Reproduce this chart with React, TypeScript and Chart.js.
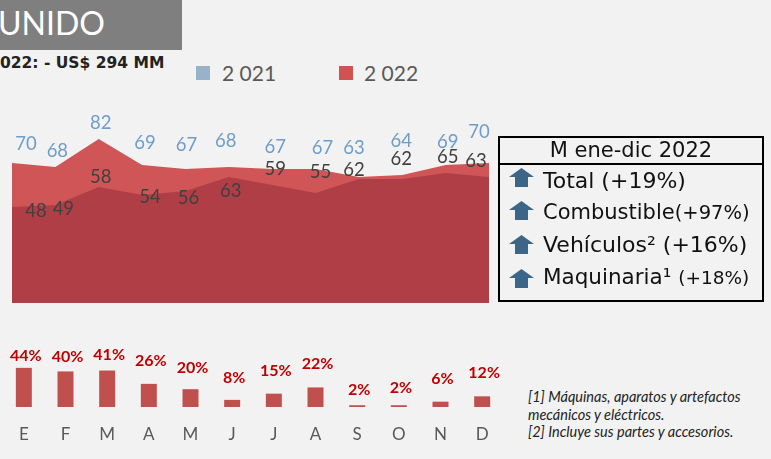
import React, { useEffect, useRef } from "react";
import { Chart, registerables } from "chart.js";

Chart.register(...registerables);

// ---- data ----
const months = ["E", "F", "M", "A", "M", "J", "J", "A", "S", "O", "N", "D"];
const values2021 = [70, 68, 82, 69, 67, 68, 67, 67, 63, 64, 69, 70];
const values2022 = [48, 49, 58, 54, 56, 63, 59, 55, 62, 62, 65, 63];
const variation = [44, 40, 41, 26, 20, 8, 15, 22, 2, 2, 6, 12];
const legendLabels = ["2 021", "2 022"];
const boxTitle = "M ene-dic 2022";

// ---- label nudges (style, pixels) ----
const topDx = [14, 2, 2, 3, 1, -3, 3, 7, -5, -1, 2, -10];
const topDy = [-19, -16, -16, -22, -24, -26, -22, -21, -29, -34, -23, -31];
const lowDx = [24, 8, 2, 8, 3, 2, 3, 5, -5, -1, 2, -13];
const lowDy = [4, 4, -10, 2, 7, 14, -16, -21, -9, -20, -16, -16];
const barDy = [-12, -15, -16, -23, -21, -22, -23, -24, -15, -17, -23, -23];

const LIGHT_RED = "#D05556";
const DARK_RED = "#B03E46";
const BAR_RED = "#C0504D";
const BLUE_LABEL = "#6E9DC9";
const CAL = "Lato, 'Open Sans', sans-serif";
const VER = "'DejaVu Sans', Verdana, sans-serif";

function AreaChart() {
  const ref = useRef<HTMLCanvasElement>(null);
  useEffect(() => {
    const labelPlugin = {
      id: "areaLabels",
      afterDatasetsDraw(chart: any) {
        const ctx = chart.ctx;
        ctx.save();
        ctx.font = `18.5px ${CAL}`;
        ctx.textAlign = "center";
        ctx.textBaseline = "middle";
        const metaLow = chart.getDatasetMeta(0);
        const metaTop = chart.getDatasetMeta(1);
        metaTop.data.forEach((pt: any, i: number) => {
          ctx.fillStyle = BLUE_LABEL;
          ctx.fillText(String(values2021[i]), pt.x + topDx[i], pt.y + topDy[i]);
        });
        metaLow.data.forEach((pt: any, i: number) => {
          ctx.fillStyle = "#404040";
          ctx.fillText(String(values2022[i]), pt.x + lowDx[i], pt.y + lowDy[i]);
        });
        ctx.restore();
      },
    };
    const chart = new Chart(ref.current!, {
      type: "line",
      data: {
        labels: months,
        datasets: [
          {
            label: legendLabels[1],
            data: values2022,
            fill: "origin",
            backgroundColor: DARK_RED,
            borderColor: DARK_RED,
            borderWidth: 0,
            pointRadius: 0,
            tension: 0,
          },
          {
            label: legendLabels[0],
            data: values2021,
            fill: "origin",
            backgroundColor: LIGHT_RED,
            borderColor: LIGHT_RED,
            borderWidth: 0,
            pointRadius: 0,
            tension: 0,
          },
        ],
      },
      options: {
        responsive: false,
        animation: false,
        layout: { padding: { left: 12, right: 11, top: 3, bottom: 0 } },
        plugins: { legend: { display: false }, tooltip: { enabled: false } },
        scales: {
          x: { display: false, offset: false },
          y: { display: false, min: 0, max: 100 },
        },
      },
      plugins: [labelPlugin],
    });
    return () => chart.destroy();
  }, []);
  return (
    <canvas
      ref={ref}
      width={500}
      height={203}
      style={{ position: "absolute", left: 0, top: 100, width: 500, height: 203 }}
    />
  );
}

function BarChart() {
  const ref = useRef<HTMLCanvasElement>(null);
  useEffect(() => {
    const labelPlugin = {
      id: "barLabels",
      afterDatasetsDraw(chart: any) {
        const ctx = chart.ctx;
        ctx.save();
        ctx.textAlign = "center";
        ctx.textBaseline = "middle";
        const meta = chart.getDatasetMeta(0);
        meta.data.forEach((bar: any, i: number) => {
          ctx.font = `bold 16px ${CAL}`;
          ctx.fillStyle = "#C00000";
          ctx.fillText(variation[i] + "%", bar.x + 2, bar.y + barDy[i]);
          ctx.font = `17px ${CAL}`;
          ctx.fillStyle = "#595959";
          ctx.fillText(months[i], bar.x, chart.chartArea.bottom + 28);
        });
        ctx.restore();
      },
    };
    const chart = new Chart(ref.current!, {
      type: "bar",
      data: {
        labels: months,
        datasets: [
          {
            label: "Var %",
            data: variation,
            backgroundColor: BAR_RED,
            borderWidth: 0,
            categoryPercentage: 1,
            barPercentage: 0.384,
          },
        ],
      },
      options: {
        responsive: false,
        animation: false,
        layout: { padding: { left: 0, right: 0, top: 0, bottom: 43 } },
        plugins: { legend: { display: false }, tooltip: { enabled: false } },
        scales: {
          x: { display: false },
          y: { display: false, min: 0, max: 75.3 },
        },
      },
      plugins: [labelPlugin],
    });
    return () => chart.destroy();
  }, []);
  return (
    <canvas
      ref={ref}
      width={500}
      height={110}
      style={{ position: "absolute", left: 3, top: 340, width: 500, height: 110 }}
    />
  );
}

function Arrow({ top }: { top: number }) {
  return (
    <svg
      width={25}
      height={19}
      viewBox="0 0 25 19"
      style={{ position: "absolute", left: 509, top }}
    >
      <polygon points="12.5,0 25,9 19,9 19,19 6,19 6,9 0,9" fill="#3C6687" />
    </svg>
  );
}

export default function App() {
  const rowText: React.CSSProperties = {
    position: "absolute",
    left: 543,
    fontFamily: VER,
    fontSize: 22,
    color: "#111",
    whiteSpace: "nowrap",
    lineHeight: "26px",
  };
  return (
    <div
      style={{
        position: "fixed",
        left: 0,
        top: 0,
        width: 771,
        height: 459,
        background: "#F2F2F2",
        overflow: "hidden",
      }}
    >
      {/* title box */}
      <div
        style={{
          position: "absolute",
          left: 0,
          top: 0,
          width: 182,
          height: 50,
          background: "#7F7F7F",
        }}
      />
      <div
        style={{
          position: "absolute",
          left: -2,
          top: 3,
          fontFamily: CAL,
          fontSize: 32,
          color: "#fff",
          lineHeight: "40px",
          whiteSpace: "nowrap",
        }}
      >
        UNIDO
      </div>
      <div
        style={{
          position: "absolute",
          left: 0,
          top: 54,
          fontFamily: VER,
          fontWeight: "bold",
          fontSize: 15.5,
          color: "#222",
          lineHeight: "18px",
          whiteSpace: "nowrap",
        }}
      >
        022: - US$ 294 MM
      </div>

      {/* legend */}
      <div style={{ position: "absolute", left: 196, top: 66, width: 14, height: 14, background: "#98B3C8" }} />
      <div
        style={{
          position: "absolute",
          left: 222,
          top: 59,
          fontFamily: CAL,
          fontSize: 21,
          color: "#595959",
          lineHeight: "28px",
          whiteSpace: "nowrap",
        }}
      >
        {legendLabels[0]}
      </div>
      <div style={{ position: "absolute", left: 339, top: 66, width: 14, height: 14, background: "#D05353" }} />
      <div
        style={{
          position: "absolute",
          left: 364,
          top: 59,
          fontFamily: CAL,
          fontSize: 21,
          color: "#595959",
          lineHeight: "28px",
          whiteSpace: "nowrap",
        }}
      >
        {legendLabels[1]}
      </div>

      <AreaChart />
      <BarChart />

      {/* summary box */}
      <div
        style={{
          position: "absolute",
          left: 498,
          top: 136,
          width: 266,
          height: 166,
          border: "2px solid #000",
          boxSizing: "border-box",
        }}
      >
        <div
          style={{
            height: 25,
            borderBottom: "2px solid #000",
            textAlign: "center",
            fontFamily: VER,
            fontSize: 21,
            lineHeight: "25px",
            color: "#111",
          }}
        >
          {boxTitle}
        </div>
      </div>
      <Arrow top={168} />
      <Arrow top={201} />
      <Arrow top={235} />
      <Arrow top={269} />
      <div style={{ ...rowText, top: 168 }}>Total (+19%)</div>
      <div style={{ ...rowText, top: 199, fontSize: 21 }}>
        Combustible<span style={{ fontSize: 19.5 }}>(+97%)</span>
      </div>
      <div style={{ ...rowText, top: 232 }}>Vehículos² (+16%)</div>
      <div style={{ ...rowText, top: 264, fontSize: 21.5 }}>
        Maquinaria¹ <span style={{ fontSize: 18.5 }}>(+18%)</span>
      </div>

      {/* footnotes */}
      <div
        style={{
          position: "absolute",
          left: 528,
          top: 388,
          fontFamily: CAL,
          fontStyle: "italic",
          fontSize: 14.5,
          lineHeight: "17.5px",
          color: "#222",
          whiteSpace: "nowrap",
        }}
      >
        [1] Máquinas, aparatos y artefactos
        <br />
        mecánicos y eléctricos.
        <br />
        [2] Incluye sus partes y accesorios.
      </div>
    </div>
  );
}
